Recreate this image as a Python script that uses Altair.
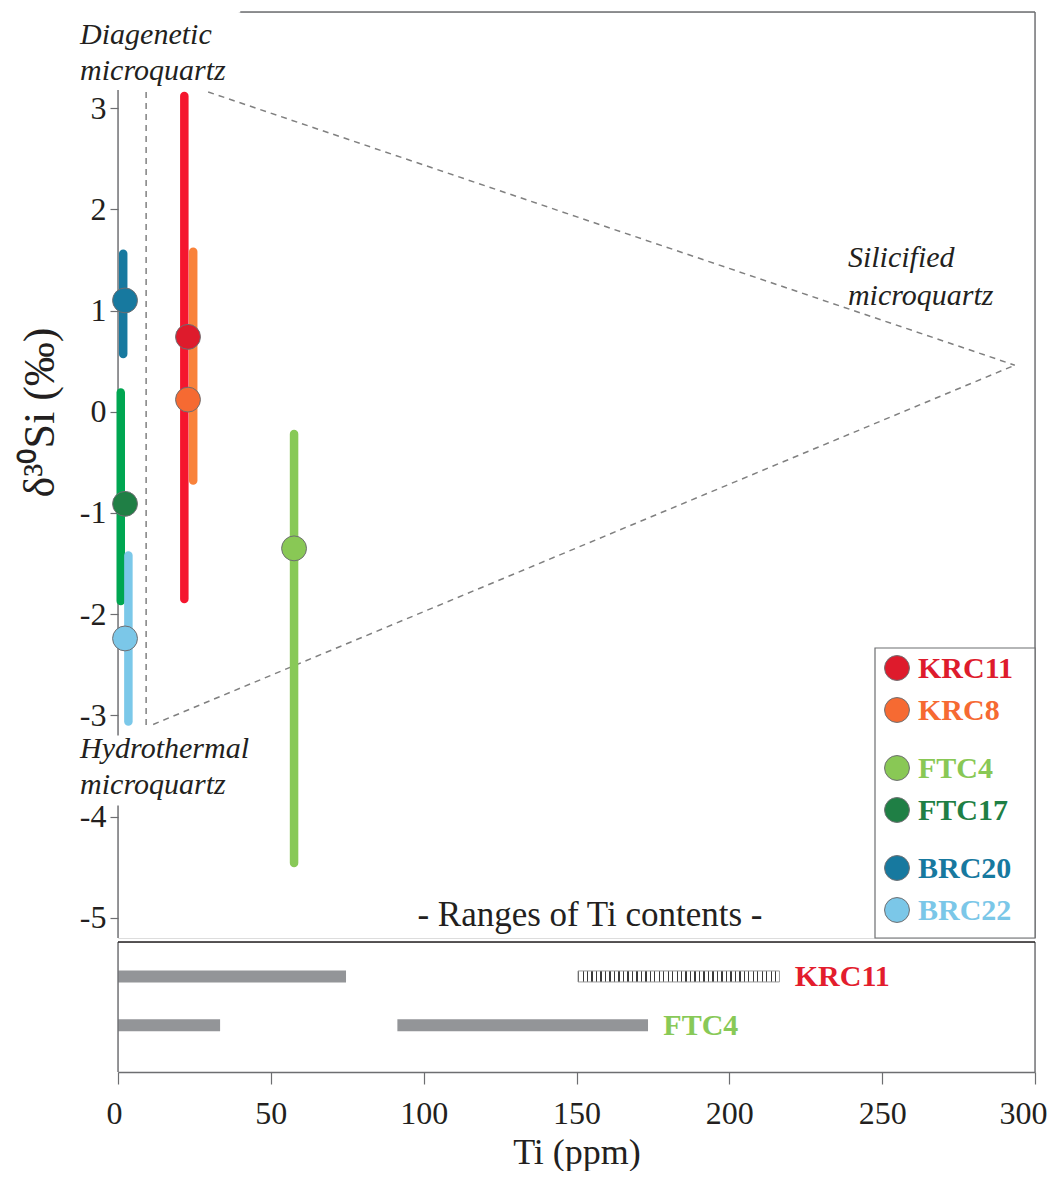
import altair as alt
import pandas as pd

FONT = "Liberation Serif"
INK = "#231f20"
GRAY = "#6d6e71"

# ---- sample data (upper panel) ----
samples = ["KRC11", "KRC8", "FTC4", "FTC17", "BRC20", "BRC22"]
bar_colors = ["#f5162e", "#f9823a", "#88c957", "#00a651", "#17799f", "#7bc8e9"]
dot_colors = ["#de1b2c", "#f66a32", "#89c855", "#1f7f45", "#17799f", "#7bc7e8"]
ti_bar = [21.7, 24.6, 57.6, 0.9, 1.7, 3.4]
ti_dot = [22.9, 22.9, 57.6, 2.3, 2.3, 2.3]
si_mean = [0.74, 0.12, -1.35, -0.91, 1.10, -2.24]
si_low = [-1.85, -0.68, -4.46, -1.87, 0.57, -3.06]
si_high = [3.12, 1.58, -0.22, 0.19, 1.56, -1.42]

legend_groups = [["KRC11", "KRC8"], ["FTC4", "FTC17"], ["BRC20", "BRC22"]]

# region boundaries (dashed)
guide_x = [9.2, 29.5, 11.5]
guide_x2 = [9.2, 293.4, 293.4]
guide_y = [3.16, 3.16, -3.09]
guide_y2 = [-3.1, 0.46, 0.46]

# annotation texts
ann_text = ["Diagenetic", "microquartz", "Hydrothermal", "microquartz", "Silicified", "microquartz"]
ann_x = [-12.4, -12.4, -12.4, -12.4, 238.8, 238.8]
ann_y = [3.72, 3.37, -3.33, -3.69, 1.52, 1.14]

# white label backgrounds behind the two left annotations (x, x2, y, y2)
box_x = [-3, -3]
box_x2 = [39.5, 44]
box_y = [3.18, -3.2]
box_y2 = [3.95, -3.89]

# ---- ranges of Ti contents (lower panel) ----
range_sample = ["KRC11", "KRC11", "FTC4", "FTC4"]
range_lo = [0, 150.5, 0, 91.4]
range_hi = [74.6, 216.4, 33.4, 173.4]
range_hatched = [False, True, False, False]
range_label_colors = {"KRC11": "#e31d2d", "FTC4": "#88c957"}

XDOM = [0, 300]
YDOM = [-5.2, 3.95]
W, H_TOP, H_BOT = 917, 926, 130

xs = alt.Scale(domain=XDOM, nice=False, zero=False)
ys = alt.Scale(domain=YDOM, nice=False, zero=False)

df = pd.DataFrame(dict(sample=samples, bar_color=bar_colors, dot_color=dot_colors,
                       ti_bar=ti_bar, ti_dot=ti_dot, mean=si_mean, lo=si_low, hi=si_high))

# frame of the upper panel: top (starts right of the label box), right, left
frame = pd.DataFrame(dict(x=[40, 300, 0], x2=[300, 300, 0],
                          y=[3.95, -5.2, 3.95], y2=[3.95, 3.95, -5.2]))

yaxis = alt.Axis(values=list(range(-5, 4)), domain=False, grid=False, tickSize=8,
                 tickColor=GRAY, tickWidth=1.2, labelFont=FONT, labelFontSize=32,
                 labelColor=INK, labelPadding=4,
                 labelExpr="datum.value < 0 ? '-' + abs(datum.value) : '' + datum.value",
                 title="δ³⁰Si (‰)", titleFont=FONT, titleFontSize=44, titleFontWeight="normal",
                 titleColor=INK, titleX=-78, titleY=400, titleAngle=-90,
                 titleBaseline="middle", titleAlign="center")

frame_l = alt.Chart(frame).mark_rule(color=GRAY, strokeWidth=1.4).encode(
    x=alt.X("x:Q", scale=xs, axis=None), x2="x2:Q",
    y=alt.Y("y:Q", scale=ys, axis=yaxis), y2="y2:Q")

boxes = pd.DataFrame(dict(x=box_x, x2=box_x2, y=box_y, y2=box_y2))
box_l = alt.Chart(boxes).mark_rect(fill="white", stroke=None).encode(
    x=alt.X("x:Q", scale=xs, axis=None), x2="x2:Q", y=alt.Y("y:Q", scale=ys), y2="y2:Q")

guides = pd.DataFrame(dict(x=guide_x, x2=guide_x2, y=guide_y, y2=guide_y2))
guide_l = alt.Chart(guides).mark_rule(color="#808080", strokeWidth=1.5, strokeDash=[6, 5]).encode(
    x=alt.X("x:Q", scale=xs, axis=None), x2="x2:Q", y=alt.Y("y:Q", scale=ys), y2="y2:Q")

bars = alt.Chart(df).mark_rule(strokeWidth=8.5, strokeCap="round").encode(
    x=alt.X("ti_bar:Q", scale=xs, axis=None), y=alt.Y("lo:Q", scale=ys), y2="hi:Q",
    color=alt.Color("bar_color:N", scale=None))

dots = alt.Chart(df).mark_point(filled=True, shape="circle", size=620, opacity=1,
                                stroke=GRAY, strokeWidth=1).encode(
    x=alt.X("ti_dot:Q", scale=xs, axis=None), y=alt.Y("mean:Q", scale=ys),
    fill=alt.Color("dot_color:N", scale=None))

ann = pd.DataFrame(dict(text=ann_text, x=ann_x, y=ann_y))
ann_l = alt.Chart(ann).mark_text(font=FONT, fontStyle="italic", fontSize=30, align="left",
                                 baseline="middle", color=INK).encode(
    x=alt.X("x:Q", scale=xs, axis=None), y=alt.Y("y:Q", scale=ys), text="text:N")

ranges_title = alt.Chart(pd.DataFrame(dict(t=["- Ranges of Ti contents -"], x=[154.4], y=[-4.97]))).mark_text(
    font=FONT, fontSize=35, align="center", baseline="middle", color=INK).encode(
    x=alt.X("x:Q", scale=xs, axis=None), y=alt.Y("y:Q", scale=ys), text="t:N")

# legend (drawn manually, grouped)
leg_rows = []
base, row_step, group_gap = 656, 42, 16
py = base
for gi, grp in enumerate(legend_groups):
    for s in grp:
        i = samples.index(s)
        leg_rows.append(dict(sample=s, color=dot_colors[i], ly=py))
        py += row_step
    py += group_gap
leg = pd.DataFrame(leg_rows)

leg_box = alt.Chart(pd.DataFrame(dict(a=[0]))).mark_rect(fill="white", stroke=GRAY, strokeWidth=1.2).encode(
    x=alt.value(757), x2=alt.value(917), y=alt.value(636), y2=alt.value(926))
leg_dots = alt.Chart(leg).mark_point(filled=True, shape="circle", size=620, opacity=1,
                                     stroke=GRAY, strokeWidth=1).encode(
    x=alt.value(779), y=alt.Y("ly:Q", scale=None), fill=alt.Color("color:N", scale=None))
leg_text = alt.Chart(leg).mark_text(font=FONT, fontSize=30, fontWeight="bold", align="left",
                                    baseline="middle", dy=1).encode(
    x=alt.value(800), y=alt.Y("ly:Q", scale=None), text="sample:N",
    color=alt.Color("color:N", scale=None))

top = alt.layer(frame_l, box_l, guide_l, bars, dots, ann_l, ranges_title,
                leg_box, leg_dots, leg_text).properties(width=W, height=H_TOP)

# ---- lower panel ----
rng = pd.DataFrame(dict(sample=range_sample, lo=range_lo, hi=range_hi, hatched=range_hatched))
solid = rng[~rng.hatched]
hatch = rng[rng.hatched]
lab = rng.groupby("sample", sort=False)["hi"].max().reset_index()
lab["x"] = lab["hi"] + 5
lab["color"] = lab["sample"].map(range_label_colors)

yb = alt.Scale(domain=["KRC11", "FTC4"], padding=0.661, align=0.405)
xaxis = alt.Axis(values=list(range(0, 301, 50)), grid=False, tickSize=12, tickColor=GRAY,
                 tickWidth=1.2, domainColor=GRAY, domainWidth=1.4, labelFont=FONT,
                 labelFontSize=32, labelColor=INK, labelPadding=14, labelFlush=True,
                 labelFlushOffset=12,
                 title="Ti (ppm)", titleFont=FONT, titleFontSize=36, titleFontWeight="normal",
                 titleColor=INK, titlePadding=6)

border = alt.Chart(pd.DataFrame(dict(a=[0]))).mark_rule(color=GRAY, strokeWidth=1.4).encode(
    x=alt.value(0), x2=alt.value(0), y=alt.value(0), y2=alt.value(H_BOT))
border_r = alt.Chart(pd.DataFrame(dict(a=[0]))).mark_rule(color=GRAY, strokeWidth=1.4).encode(
    x=alt.value(W), x2=alt.value(W), y=alt.value(0), y2=alt.value(H_BOT))
border_t = alt.Chart(pd.DataFrame(dict(a=[0]))).mark_rule(color="#231f20", strokeWidth=1.4).encode(
    x=alt.value(0), x2=alt.value(W), y=alt.value(0))

solid_l = alt.Chart(solid).mark_rule(strokeWidth=12, color="#939598").encode(
    x=alt.X("lo:Q", scale=xs, axis=xaxis), x2="hi:Q",
    y=alt.Y("sample:N", scale=yb, axis=None))

N = 45
stops = []
for i in range(N):
    a = i / N
    b = (i + 0.3) / N
    c = (i + 1) / N
    stops += [alt.GradientStop(offset=a, color="#3a3a3a"), alt.GradientStop(offset=b, color="#3a3a3a"),
              alt.GradientStop(offset=b, color="#ffffff"), alt.GradientStop(offset=c, color="#ffffff")]
grad = alt.LinearGradient(gradient="linear", stops=stops, x1=0, x2=1, y1=0, y2=0)

hatch_l = alt.Chart(hatch).mark_bar(height=11, fill=grad, stroke="#9a9a9a", strokeWidth=1).encode(
    x=alt.X("lo:Q", scale=xs), x2="hi:Q", y=alt.Y("sample:N", scale=yb))

lab_l = alt.Chart(lab).mark_text(font=FONT, fontSize=30, fontWeight="bold", align="left",
                                 baseline="middle", dy=1).encode(
    x=alt.X("x:Q", scale=xs), y=alt.Y("sample:N", scale=yb), text="sample:N",
    color=alt.Color("color:N", scale=None))

bottom = alt.layer(solid_l, hatch_l, lab_l, border, border_r, border_t).properties(width=W, height=H_BOT)

chart = alt.vconcat(top, bottom, spacing=0).properties(
    padding={"left": 9, "top": 2, "right": 0, "bottom": 0}
).configure_view(stroke=None).configure(background="white")

chart.save("out.html", embed_options={"renderer": "svg", "actions": False})
